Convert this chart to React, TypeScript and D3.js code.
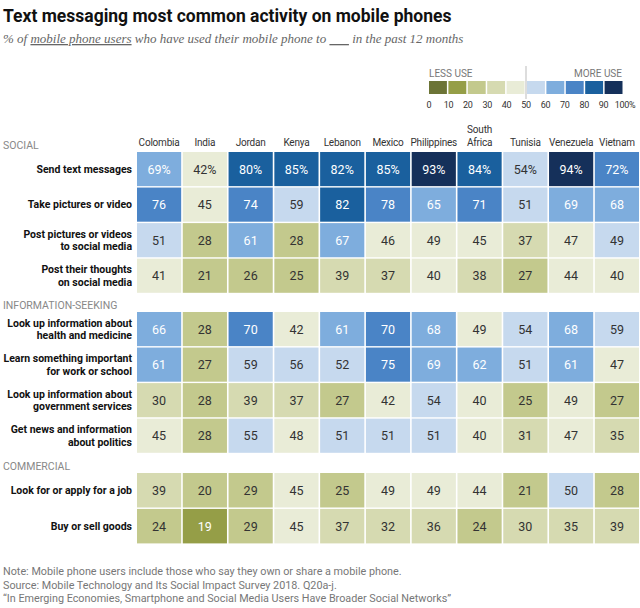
import * as d3 from "d3";

const countries = [
  "Colombia", "India", "Jordan", "Kenya", "Lebanon", "Mexico",
  "Philippines", "South Africa", "Tunisia", "Venezuela", "Vietnam",
];

const groups = ["SOCIAL", "INFORMATION-SEEKING", "COMMERCIAL"];

const socialRows = [
  "Send text messages",
  "Take pictures or video",
  "Post pictures or videos|to social media",
  "Post their thoughts|on social media",
];
const infoRows = [
  "Look up information about|health and medicine",
  "Learn something important|for work or school",
  "Look up information about|government services",
  "Get news and information|about politics",
];
const commercialRows = ["Look for or apply for a job", "Buy or sell goods"];

// shares per country, same order as countries
const socialValues = [
  [69, 42, 80, 85, 82, 85, 93, 84, 54, 94, 72],
  [76, 45, 74, 59, 82, 78, 65, 71, 51, 69, 68],
  [51, 28, 61, 28, 67, 46, 49, 45, 37, 47, 49],
  [41, 21, 26, 25, 39, 37, 40, 38, 27, 44, 40],
];
const infoValues = [
  [66, 28, 70, 42, 61, 70, 68, 49, 54, 68, 59],
  [61, 27, 59, 56, 52, 75, 69, 62, 51, 61, 47],
  [30, 28, 39, 37, 27, 42, 54, 40, 25, 49, 27],
  [45, 28, 55, 48, 51, 51, 51, 40, 31, 47, 35],
];
const commercialValues = [
  [39, 20, 29, 45, 25, 49, 49, 44, 21, 50, 28],
  [24, 19, 29, 45, 37, 32, 36, 24, 30, 35, 39],
];

// cells the source shades in a different band than the rounded number shows
const shadeOverrides = [
  { row: "Post pictures or videos|to social media", country: "Vietnam", band: 50 },
];

const legendTicks = [0, 10, 20, 30, 40, 50, 60, 70, 80, 90, 100];
const palette = [
  "#6c7436", "#959e47", "#c3c98d", "#d6dab1", "#e9ecd7",
  "#c6d9ee", "#7eaddd", "#4a84c6", "#1a609e", "#15305a",
];

const notes = [
  "Note: Mobile phone users include those who say they own or share a mobile phone.",
  "Source: Mobile Technology and Its Social Impact Survey 2018. Q20a-j.",
  "\u201cIn Emerging Economies, Smartphone and Social Media Users Have Broader Social Networks\u201d",
];

const W = 640;
const H = 608;
const sans = "Roboto, 'Liberation Sans', sans-serif";

const color = d3.scaleThreshold<number, string>()
  .domain(legendTicks.slice(1, -1))
  .range(palette);

const x = d3.scaleBand<string>()
  .domain(countries)
  .range([137, 639])
  .paddingInner(0.035);

const groupData = [
  { name: groups[0], rows: socialRows, values: socialValues, top: 152 },
  { name: groups[1], rows: infoRows, values: infoValues, top: 312 },
  { name: groups[2], rows: commercialRows, values: commercialValues, top: 473 },
];

const legendX = d3.scaleLinear().domain([0, 100]).range([429, 623]);

const shadeOf = (row: string, country: string, v: number) => {
  const o = shadeOverrides.find((s) => s.row === row && s.country === country);
  return color(o ? o.band : v);
};

export default function App() {
  return (
    <>
      <style>{"body{margin:0;overflow:hidden}"}</style>
      <svg width={W} height={H} style={{ display: "block", position: "absolute", left: 0, top: 0 }}>
        <rect width={W} height={H} fill="#fff" />
        <text x={3} y={22} fontFamily={sans} fontWeight={700} fontSize={17.5} fill="#111">
          Text messaging most common activity on mobile phones
        </text>
        <text x={3} y={43} fontFamily="'Liberation Serif', serif" fontStyle="italic" fontSize={13} fill="#666">
          % of <tspan textDecoration="underline">mobile phone users</tspan> who have used their mobile phone to{" "}
          <tspan textDecoration="underline">{"\u2002\u2002\u2002"}</tspan> in the past 12 months
        </text>

        {/* legend */}
        <g fontFamily={sans} fill="#777">
          <text x={legendX(0)} y={77} fontSize={10}>LESS USE</text>
          <text x={legendX(100) - 1} y={77} fontSize={10} textAnchor="end">MORE USE</text>
          {palette.map((c, i) => (
            <rect key={c} x={legendX(legendTicks[i]) + (i >= 5 ? 1 : 0)} y={81}
              width={legendX(10) - legendX(0) - 1.5} height={13} fill={c} />
          ))}
          <line x1={legendX(50)} x2={legendX(50)} y1={66} y2={99} stroke="#bbb" />
          {legendTicks.map((t) => (
            <text key={t} x={legendX(t) + (t === 100 ? 2 : 0)} y={108} fontSize={9}
              textAnchor="middle" fill="#333" letterSpacing={-0.3}>
              {t === 100 ? "100%" : t}
            </text>
          ))}
        </g>

        {/* country headers */}
        {countries.map((c) => {
          const parts = c === "South Africa" ? ["South", "Africa"] : [c];
          return (
            <text key={c} x={x(c)! + x.bandwidth() / 2} textAnchor="middle"
              fontFamily={sans} fontSize={10} letterSpacing={-0.2} fill="#333">
              {parts.map((p, i) => (
                <tspan key={p} x={x(c)! + x.bandwidth() / 2} y={146 - (parts.length - 1 - i) * 13}>{p}</tspan>
              ))}
            </text>
          );
        })}

        {groupData.map((g) => {
          const y = d3.scaleBand<number>()
            .domain(d3.range(g.rows.length))
            .range([g.top, g.top + g.rows.length * 35.2])
            .paddingInner(0.04);
          return (
            <g key={g.name}>
              <text x={3} y={g.top - 3} fontFamily={sans} fontSize={10.5} fill="#888">{g.name}</text>
              {g.rows.map((r, i) => {
                const lines = r.split("|");
                const cy = y(i)! + y.bandwidth() / 2;
                return (
                  <g key={r}>
                    <text textAnchor="end" fontFamily={sans} fontWeight={700} fontSize={10.5} fill="#111">
                      {lines.map((l, j) => (
                        <tspan key={l} x={132} y={cy + 3.8 + (j - (lines.length - 1) / 2) * 12.5}>{l}</tspan>
                      ))}
                    </text>
                    {g.values[i].map((v, j) => {
                      const c = countries[j];
                      const light = v >= 60 || v < 20;
                      return (
                        <g key={c}>
                          <rect x={x(c)} y={y(i)} width={x.bandwidth()} height={y.bandwidth()} fill={shadeOf(r, c, v)} />
                          <text x={x(c)! + x.bandwidth() / 2} y={cy + 4.5} textAnchor="middle"
                            fontFamily={sans} fontSize={12.5} fill={light ? "#fff" : "#333"}>
                            {v}{g.name === "SOCIAL" && i === 0 ? "%" : ""}
                          </text>
                        </g>
                      );
                    })}
                  </g>
                );
              })}
            </g>
          );
        })}

        <g fontFamily={sans} fontSize={10.8} fill="#777">
          {notes.map((n, i) => (
            <text key={i} x={3} y={575 + i * 13.5}>{n}</text>
          ))}
        </g>
      </svg>
    </>
  );
}
